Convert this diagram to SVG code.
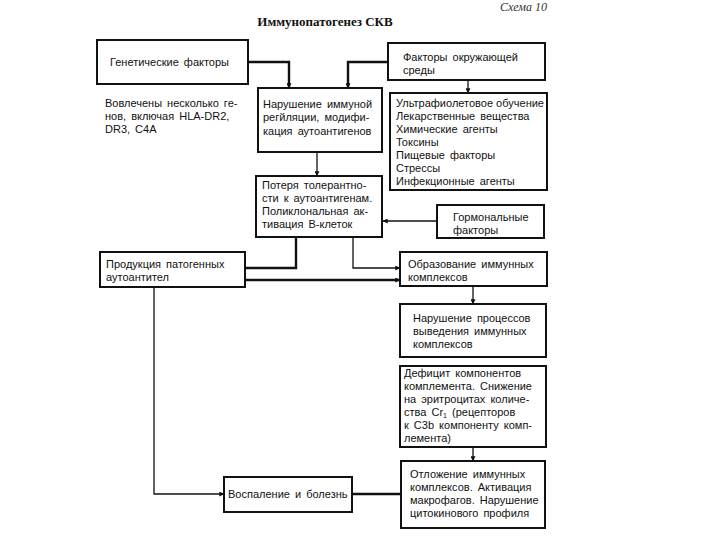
<svg xmlns="http://www.w3.org/2000/svg" width="720" height="540" viewBox="0 0 720 540">
<style>
  .box { fill: #fff; stroke: #111; stroke-width: 2; }
  .t { font-family: "Liberation Sans", Arial, sans-serif; font-size: 11px; fill: #111; word-spacing: 2px; }
  .title { font-family: "Liberation Serif", "Times New Roman", serif; font-size: 13px; font-weight: bold; fill: #111; }
  .sch { font-family: "Liberation Serif", "Times New Roman", serif; font-size: 12px; font-style: italic; fill: #333; }
  .c { fill: none; stroke: #111; stroke-width: 1.3; }
  .ck { fill: none; stroke: #111; stroke-width: 2.4; }
</style>
<defs>
  <marker id="ah" viewBox="0 0 8 8" refX="7.5" refY="4" markerWidth="5" markerHeight="5" orient="auto" markerUnits="userSpaceOnUse">
    <path d="M0,0 L8,4 L0,8 z" fill="#111"/>
  </marker>
</defs>
<rect width="720" height="540" fill="#fff"/>
<text class="sch" x="500" y="11">Схема  10</text>
<text class="title" x="325" y="26" text-anchor="middle">Иммунопатогенез  СКВ</text>

<g id="connectors">
  <path class="ck" d="M248,62 H289 V88" marker-end="url(#ah)"/>
  <path class="ck" d="M388,62 H348 V88" marker-end="url(#ah)"/>
  <path class="c" d="M468,80 V93" marker-end="url(#ah)"/>
  <path class="c" d="M317,152 V176" marker-end="url(#ah)"/>
  <path class="c" d="M437,221 H383" marker-end="url(#ah)"/>
  <path class="ck" d="M296,237 V268 H246"/>
  <path class="c" d="M353,237 V268 H400" marker-end="url(#ah)"/>
  <path class="ck" d="M245,280 H400" marker-end="url(#ah)"/>
  <path class="c" d="M473,286 V304" marker-end="url(#ah)"/>
  <path class="c" d="M473,447 V461" marker-end="url(#ah)"/>
  <path class="c" d="M154,287 V494 H224" marker-end="url(#ah)"/>
  <path class="ck" d="M401,494 H353"/>
</g>

<g id="genetic">
  <rect class="box" x="97" y="40" width="151" height="44"/>
  <text class="t" x="110" y="66">Генетические  факторы</text>
</g>
<g id="genetic-note">
  <text class="t" x="105" y="107">Вовлечены  несколько  ге-</text>
  <text class="t" x="105" y="120">нов,  включая  HLA-DR2,</text>
  <text class="t" x="105" y="133">DR3,  C4A</text>
</g>
<g id="environment">
  <rect class="box" x="388" y="43" width="157" height="37"/>
  <text class="t" x="403" y="61">Факторы  окружающей</text>
  <text class="t" x="403" y="74">среды</text>
</g>
<g id="regulation">
  <rect class="box" x="258" y="88" width="124" height="64"/>
  <text class="t" x="263" y="108">Нарушение  иммуной</text>
  <text class="t" x="263" y="121">регйляции,  модифи-</text>
  <text class="t" x="263" y="135">кация  аутоантигенов</text>
</g>
<g id="env-list">
  <rect class="box" x="390" y="93" width="157" height="97"/>
  <text class="t" x="396" y="107" style="word-spacing:0">Ультрафиолетовое обучение</text>
  <text class="t" x="396" y="120">Лекарственные  вещества</text>
  <text class="t" x="396" y="133">Химические  агенты</text>
  <text class="t" x="396" y="146">Токсины</text>
  <text class="t" x="396" y="159">Пищевые  факторы</text>
  <text class="t" x="396" y="172">Стрессы</text>
  <text class="t" x="396" y="185">Инфекционные  агенты</text>
</g>
<g id="tolerance">
  <rect class="box" x="256" y="176" width="126" height="61"/>
  <text class="t" x="262" y="189">Потеря  толерантно-</text>
  <text class="t" x="262" y="202">сти  к  аутоантигенам.</text>
  <text class="t" x="262" y="215">Поликлональная  ак-</text>
  <text class="t" x="262" y="228">тивация  В-клеток</text>
</g>
<g id="hormonal">
  <rect class="box" x="437" y="205" width="107" height="33"/>
  <text class="t" x="453" y="221">Гормональные</text>
  <text class="t" x="453" y="234">факторы</text>
</g>
<g id="autoantibodies">
  <rect class="box" x="100" y="252" width="145" height="35"/>
  <text class="t" x="106" y="268">Продукция  патогенных</text>
  <text class="t" x="106" y="281">аутоантител</text>
</g>
<g id="complex-formation">
  <rect class="box" x="400" y="252" width="147" height="34"/>
  <text class="t" x="408" y="268">Образование  иммунных</text>
  <text class="t" x="408" y="281">комплексов</text>
</g>
<g id="clearance">
  <rect class="box" x="400" y="304" width="146" height="53"/>
  <text class="t" x="413" y="322">Нарушение  процессов</text>
  <text class="t" x="413" y="335">выведения  иммунных</text>
  <text class="t" x="413" y="348">комплексов</text>
</g>
<g id="complement">
  <rect class="box" x="400" y="366" width="146" height="81"/>
  <text class="t" x="404" y="377">Дефицит  компонентов</text>
  <text class="t" x="404" y="390">комплемента.  Снижение</text>
  <text class="t" x="404" y="403">на  эритроцитах  количе-</text>
  <text class="t" x="404" y="416">ства  Cr<tspan font-size="7" dy="2">1</tspan><tspan dy="-2"> (рецепторов</tspan></text>
  <text class="t" x="404" y="429">к  C3b  компоненту  комп-</text>
  <text class="t" x="404" y="442">лемента)</text>
</g>
<g id="deposition">
  <rect class="box" x="401" y="461" width="144" height="67"/>
  <text class="t" x="410" y="478">Отложение  иммунных</text>
  <text class="t" x="410" y="491">комплексов.  Активация</text>
  <text class="t" x="410" y="504">макрофагов.  Нарушение</text>
  <text class="t" x="410" y="517">цитокинового  профиля</text>
</g>
<g id="inflammation">
  <rect class="box" x="224" y="477" width="128" height="35"/>
  <text class="t" x="228" y="498">Воспаление  и  болезнь</text>
</g>
</svg>
